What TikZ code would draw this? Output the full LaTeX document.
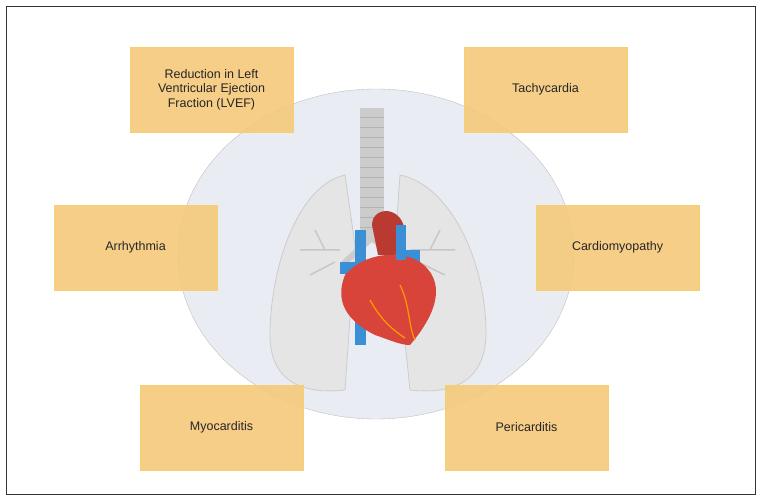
\documentclass[tikz,border=0pt]{standalone}
\usepackage{fontspec}
\setmainfont{Liberation Sans}
\begin{document}
\begin{tikzpicture}[x=1pt,y=-1pt,
    effect/.style={draw=orange!45!yellow!70!brown!60, fill=boxfill, fill opacity=0.9, text opacity=1, minimum width=163pt, minimum height=85pt, align=center, font=\fontsize{12.5}{14.5}\selectfont, text=black!85},
    lung/.style={fill=black!10, draw=black!20, line width=0.8pt}]
    \definecolor{boxfill}{HTML}{F5C97A}
    \definecolor{heartred}{HTML}{D9443A}
    \definecolor{vessel}{HTML}{3B8FD4}
    \definecolor{bgcircle}{HTML}{E9EDF3}
    % Frame
    \useasboundingbox (0,0) rectangle (762,502);
    \draw[black!80, line width=0.8pt] (6,6) rectangle (755,494);

    % Background circle
    \fill[bgcircle, draw=black!25] (376,254) ellipse (198 and 165);

    % Lungs
    \draw[lung] (345,175) .. controls (300,185) and (272,260) .. (270,330) .. controls (268,380) and (300,395) .. (345,390) -- (355,245) -- cycle;
    \draw[lung] (400,175) .. controls (450,185) and (485,260) .. (486,330) .. controls (487,380) and (455,395) .. (410,390) -- (395,245) -- cycle;
    \draw[black!22, line width=1.5pt] (300,250) -- (340,250) (315,230) -- (325,250) (310,275) -- (335,262)
          (455,250) -- (410,250) (440,230) -- (430,250) (445,275) -- (418,262);

    % Trachea
    \fill[black!20] (360,108) rectangle (384,240);
    \foreach \ty in {118,128,...,232}
        \draw[black!30, line width=1pt] (360,\ty) -- (384,\ty);
    \draw[black!20, line width=6pt, line cap=round] (372,238) -- (345,262) (372,238) -- (400,262);

    % Heart
    \fill[vessel] (355,230) rectangle (366,345);
    \fill[vessel] (340,262) rectangle (375,274);
    \fill[vessel] (385,250) rectangle (420,262);
    \fill[heartred!85!black] (372,225) .. controls (372,205) and (405,205) .. (405,235) -- (395,255) -- (378,255) -- cycle;
    \fill[heartred] (345,275) .. controls (335,300) and (345,320) .. (375,335)
        .. controls (390,340) and (400,345) .. (410,345)
        .. controls (440,310) and (445,280) .. (420,262)
        .. controls (400,250) and (365,252) .. cycle;
    \fill[vessel] (396,225) rectangle (406,260);
    \draw[orange!80!yellow, line width=1.2pt] (370,300) .. controls (380,318) and (390,328) .. (405,338)
        (400,285) .. controls (410,305) and (408,325) .. (415,340);

    % Effects
    \node[effect] (lvef) at (211.5,89.5) {Reduction in Left\\Ventricular Ejection\\Fraction (LVEF)};
    \node[effect] (tachy) at (545.5,89.5) {Tachycardia};
    \node[effect] (arrhythmia) at (135.5,247.5) {Arrhythmia};
    \node[effect] (cardiomyo) at (617.5,247.5) {Cardiomyopathy};
    \node[effect] (myo) at (221.5,427.5) {Myocarditis};
    \node[effect] (peri) at (526.5,427.5) {Pericarditis};
\end{tikzpicture}
\end{document}
